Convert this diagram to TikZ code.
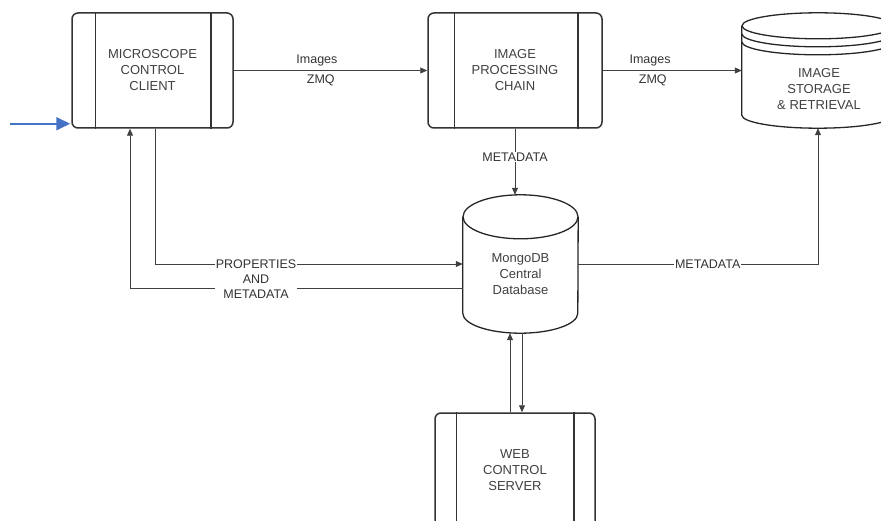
\documentclass[tikz,border=0pt]{standalone}
\usepackage{fontspec}
\setmainfont{Liberation Sans}
\usepackage{xcolor}
\usepackage{tikz}
\usetikzlibrary{calc,arrows.meta}
\definecolor{arrowblue}{RGB}{68,114,196}

\begin{document}
\begin{tikzpicture}[x=1pt, y=-1pt,
  procbox/.style={draw=black!80, line width=1.5pt, rounded corners=6pt,
    minimum width=161pt, minimum height=115pt, align=center, text=black!75,
    font=\fontsize{13}{16}\selectfont},
  bar/.style={draw=black!80, line width=1.5pt},
  dbbox/.style={inner sep=0pt},
  dbline/.style={draw=black!85, line width=1.3pt},
  txt/.style={align=center, text=black!75, font=\fontsize{13}{16}\selectfont},
  lbl/.style={align=center, text=black!80, font=\fontsize{12.5}{15}\selectfont, inner sep=1pt},
  conn/.style={draw=black!75, line width=0.8pt, -{Triangle[length=7pt,width=6pt]}},
  bluearrow/.style={draw=arrowblue, line width=1.8pt, -{Triangle[length=14pt,width=13pt]}}]
  \useasboundingbox (0,0) rectangle (881,521);
  \clip (0,0) rectangle (881,521);

  % process boxes
  \node[procbox] (mcc) at (152.5,70.5) {MICROSCOPE\\CONTROL\\CLIENT};
  \node[procbox, minimum width=174pt] (ipc) at (515,70.5) {IMAGE\\PROCESSING\\CHAIN};
  \node[procbox, minimum width=160pt] (web) at (515,470.5) {WEB\\CONTROL\\SERVER};
  \draw[bar] ($(mcc.north west)+(24,0)$) -- ($(mcc.south west)+(24,0)$);
  \draw[bar] ($(mcc.north east)+(-23,0)$) -- ($(mcc.south east)+(-23,0)$);
  \draw[bar] ($(ipc.north west)+(27,0)$) -- ($(ipc.south west)+(27,0)$);
  \draw[bar] ($(ipc.north east)+(-25,0)$) -- ($(ipc.south east)+(-25,0)$);
  \draw[bar] ($(web.north west)+(22,0)$) -- ($(web.south west)+(22,0)$);
  \draw[bar] ($(web.north east)+(-22,0)$) -- ($(web.south east)+(-22,0)$);

  % image storage
  \node[dbbox, minimum width=152pt, minimum height=115pt] (st) at (818,70.5) {};
  \node[txt] (sttxt) at (819,89) {IMAGE\\STORAGE\\\& RETRIEVAL};
  \draw[dbline] ($(st.north)+(0,13)$) ellipse[x radius=76, y radius=13];
  \draw[dbline] ($(st.north west)+(0,13)$) -- ($(st.south west)+(0,-13)$)
    arc[start angle=180, end angle=0, x radius=76, y radius=13] -- ($(st.north east)+(0,13)$);
  \draw[dbline] ($(st.north west)+(0,21)$) arc[start angle=180, end angle=0, x radius=76, y radius=13];
  \draw[dbline] ($(st.north west)+(0,29)$) arc[start angle=180, end angle=0, x radius=76, y radius=13];

  % central database
  \node[dbbox, minimum width=115pt, minimum height=138pt] (mdb) at (520.5,264) {};
  \node[txt] (mdbtxt) at (520.5,274) {MongoDB\\Central\\Database};
  \draw[dbline] ($(mdb.north)+(0,22)$) ellipse[x radius=57.5, y radius=22];
  \draw[dbline] ($(mdb.north west)+(0,22)$) -- ($(mdb.south west)+(0,-20)$)
    arc[start angle=180, end angle=0, x radius=57.5, y radius=20] -- ($(mdb.north east)+(0,22)$);

  % connectors
  \draw[conn] (mcc.east) -- (ipc.west)
    node[lbl, pos=0.43, above=3pt] {Images} node[lbl, pos=0.45, below=3pt] {ZMQ};
  \draw[conn] (ipc.east) -- (st.west)
    node[lbl, pos=0.34, above=3pt] {Images} node[lbl, pos=0.36, below=3pt] {ZMQ};
  \draw[conn] (ipc.south) -- (ipc.south |- mdb.north)
    node[lbl, fill=white, pos=0.43] {METADATA};
  \draw[conn] ($(mcc.south)+(2.5,0)$) |- (mdb.west);
  \draw[conn] ($(mdb.west)+(0,24)$) -| ($(mcc.south)+(-22.5,0)$);
  \node[lbl, fill=white] (pmlbl) at (256,279) {PROPERTIES\\AND\\METADATA};
  \draw[conn] (mdb.east) -| (st.south) node[lbl, fill=white, pos=0.27] {METADATA};
  \coordinate (webup) at ($(web.north)+(-5,0)$);
  \coordinate (webdown) at ($(mdb.south)+(1.5,0)$);
  \draw[conn] (webup) -- (webup |- mdb.south);
  \draw[conn] (webdown) -- (webdown |- web.north);

  % pointer
  \coordinate (blueend) at ($(mcc.south west)+(-1,-5)$);
  \path (blueend) ++(-60,0) coordinate (bluestart);
  \draw[bluearrow] (bluestart) -- (blueend);
\end{tikzpicture}
\end{document}
